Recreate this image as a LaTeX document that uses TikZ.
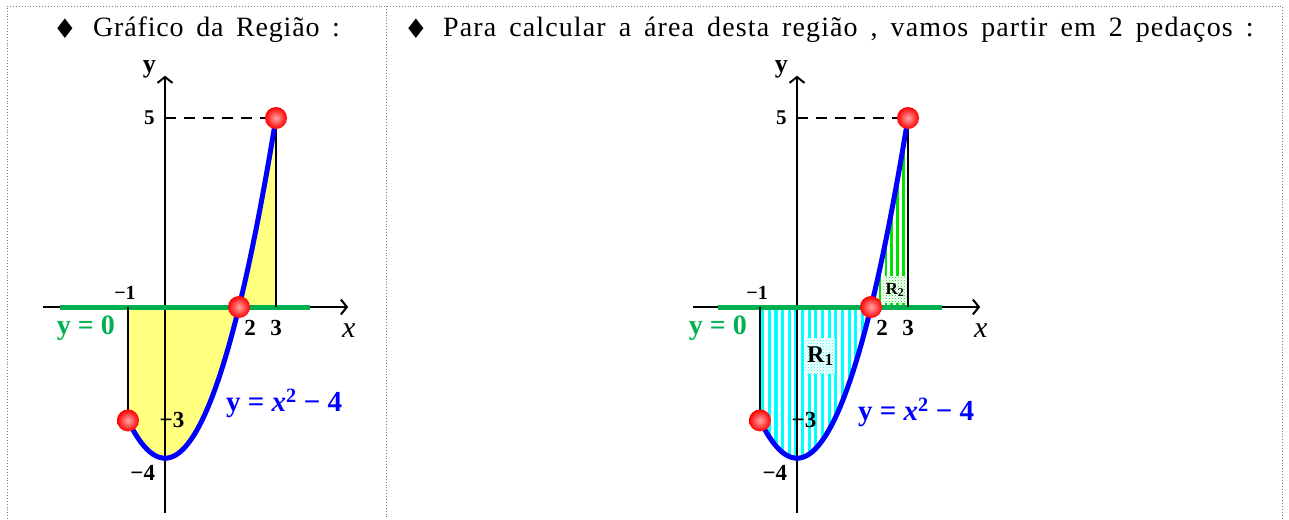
\documentclass[tikz,border=0pt]{standalone}
\usepackage{fontspec}
\setmainfont{Liberation Serif}
\newfontfamily\symbfont{DejaVu Sans}
\newfontfamily\headfont[LetterSpace=3, WordSpace=1.6]{Liberation Serif}
\newfontfamily\headfontwide[LetterSpace=4, WordSpace=1.6]{Liberation Serif}
\usetikzlibrary{arrows.meta, patterns}
\definecolor{linegreen}{RGB}{0,176,80}
\definecolor{areayellow}{RGB}{255,255,128}
\definecolor{curveblue}{RGB}{0,0,255}
\definecolor{stripecyan}{RGB}{0,255,255}
\definecolor{stripegreen}{RGB}{0,225,0}

\begin{document}
\begin{tikzpicture}[
  x=1pt, y=-1pt,
  frame/.style={draw=gray, line width=0.9pt, dash pattern=on 0.9pt off 2pt},
  header/.style={font=\headfont\fontsize{28}{31}\selectfont, inner sep=0pt},
  bullet/.style={font=\symbfont\fontsize{27}{30}\selectfont, inner sep=0pt},
  axis/.style={line width=2.4pt, -{Straight Barb[length=6pt, width=15pt, line width=2pt]}},
  edge/.style={line width=2.4pt},
  ylevel/.style={line width=5pt, linegreen},
  curve/.style={line width=5pt, curveblue},
  dot/.style={circle, minimum size=22pt, inner sep=0pt,
              inner color=red!35!white, outer color=red},
  tick/.style={font=\bfseries\fontsize{23}{25}\selectfont, inner sep=0pt},
  region/.style={font=\bfseries\fontsize{24}{26}\selectfont, inner sep=1pt,
                 preaction={fill=white}, pattern=crosshatch dots}
]
  \useasboundingbox (0,0) rectangle (1289,519);

  % dotted frame of the two cells
  \draw[frame] (7,519) -- (7,6) -- (1282,6) -- (1282,519);
  \draw[frame] (386,6) -- (386,519);

  % headers
  \node[bullet] (bulL) at (65,29) {♦};
  \node[header, anchor=base west] (headL) at (93,37) {Gráfico da Região :};
  \node[bullet] (bulR) at (416,29) {♦};
  \node[header, font=\headfontwide\fontsize{28}{31}\selectfont, anchor=base west] (headR) at (443,37)
    {Para calcular a área desta região , vamos partir em 2 pedaços :};

  % left: whole region
  \begin{scope}[shift={(165,307)}, x=37pt, y=37.8pt]
    \fill[areayellow] (-1,0) -- (-1,-3)
      -- plot[domain=-1:3, samples=60] (\x,{\x*\x-4}) -- (3,0) -- cycle;
  \end{scope}

  % right: the two pieces
  \begin{scope}[shift={(797,307)}, x=37pt, y=37.8pt]
    \begin{scope}
      \clip (-1,0) -- (-1,-3) -- plot[domain=-1:2, samples=50] (\x,{\x*\x-4}) -- cycle;
      \foreach \s in {-0.93,-0.75,...,2.1}
        \draw[stripecyan, line width=3.2pt] (\s,0.2) -- (\s,-4.2);
    \end{scope}
    \begin{scope}
      \clip (2,0) -- plot[domain=2:3, samples=30] (\x,{\x*\x-4}) -- (3,0) -- cycle;
      \foreach \s in {2.08,2.24,...,3.1}
        \draw[stripegreen, line width=2.5pt] (\s,-0.2) -- (\s,5.2);
    \end{scope}
    \node[region, pattern color=stripecyan, minimum width=30pt, minimum height=36pt]
      (r1) at (0.63,-1.3) {R\textsubscript{1}};
    \node[region, pattern color=stripegreen, minimum width=23pt, minimum height=27pt,
          font=\bfseries\fontsize{17}{19}\selectfont]
      (r2) at (2.65,0.45) {R\textsubscript{2}};
  \end{scope}

  % axes, lines, labels and points of both graphs
  \foreach \px/\pn/\ax/\gx/\ly in {165/L/-3.3/-2.84/-2.54, 797/R/-2.81/-2.13/-2.8} {
    \begin{scope}[shift={(\px,307)}, x=37pt, y=37.8pt]
      \coordinate (xs\pn) at (\ax,0);
      \coordinate (xe\pn) at (4.95,0);
      \coordinate (ys\pn) at (0,-5.45);
      \coordinate (ye\pn) at (0,6.12);
      \coordinate (y5\pn) at (0,5);
      \coordinate (o1\pn) at (-1,0);
      \coordinate (o3\pn) at (3,0);
      \draw[axis] (xs\pn) -- (xe\pn);
      \draw[axis] (ys\pn) -- (ye\pn);
      \draw[ylevel] (\gx,0) -- (3.92,0);
      \draw[edge] (o1\pn) -- (-1,-3);
      \draw[edge] (o3\pn) -- (3,5);
      \draw[curve] plot[domain=-1:3, samples=80] (\x,{\x*\x-4});
      \node[dot] (pa\pn) at (-1,-3) {};
      \node[dot] (pb\pn) at (2,0) {};
      \node[dot] (pc\pn) at (3,5) {};
      \draw[line width=1.1pt, dash pattern=on 11pt off 8pt] (y5\pn) -- (pc\pn);

      \node[font=\bfseries\fontsize{26}{27}\selectfont, inner sep=0pt] (ly\pn) at (-0.42,6.3) {y};
      \node[font=\itshape\fontsize{30}{31}\selectfont, inner sep=0pt] (lx\pn) at (4.97,-0.62) {x};
      \node[tick, font=\bfseries\fontsize{21}{23}\selectfont] (t5\pn) at (-0.42,5) {5};
      \node[tick, font=\bfseries\fontsize{20}{22}\selectfont] (tm1\pn) at (-1.08,0.38) {−1};
      \node[tick] (t2\pn) at (2.3,-0.55) {2};
      \node[tick] (t3\pn) at (3.0,-0.55) {3};
      \node[tick] (tm3\pn) at (0.19,-3.0) {−3};
      \node[tick] (tm4\pn) at (-0.6,-4.38) {−4};
      \node[font=\bfseries\fontsize{28}{30}\selectfont, text=linegreen, inner sep=0pt]
        (g0\pn) at (-2.14,-0.55) {y = 0};
      \node[font=\bfseries\fontsize{29}{31}\selectfont, text=curveblue, inner sep=0pt]
        (gf\pn) at (3.22,\ly) {y = \textit{x}\textsuperscript{2} − 4};
    \end{scope}
  }
\end{tikzpicture}
\end{document}
